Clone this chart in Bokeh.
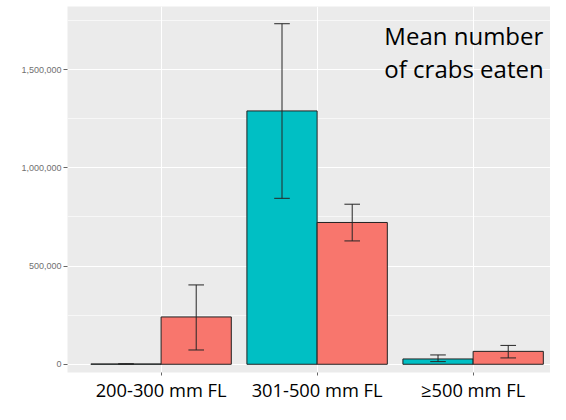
from bokeh.plotting import figure
from bokeh.models import (Range1d, FixedTicker, NumeralTickFormatter, Label)
from bokeh.embed import file_html
from bokeh.resources import INLINE
import numpy as np

# ---- data ----
categories = ["200-300 mm FL", "301-500 mm FL", "\u2265500 mm FL"]
cyan_mean = [1500, 1290000, 27000]
cyan_low = [500, 845000, 13500]
cyan_high = [2500, 1734000, 47500]
red_mean = [241000, 722000, 65700]
red_low = [72700, 628000, 32300]
red_high = [404000, 815000, 96000]
y_ticks = [0, 500000, 1000000, 1500000]
y_minor = [250000, 750000, 1250000, 1750000]
annot_lines = ["Mean number", "of crabs eaten"]

CYAN = "#00BFC4"
RED = "#F8766D"
FONT = "Open Sans"

p = figure(width=550, height=404, output_backend="svg", toolbar_location=None,
           x_range=Range1d(0.4, 3.496), y_range=Range1d(-41900, 1821700),
           min_border_left=67, min_border_right=0, min_border_top=6,
           min_border_bottom=29)
p.background_fill_color = "#EBEBEB"
p.border_fill_color = "white"
p.outline_line_color = None

xs = np.arange(1, len(categories) + 1)
bw = 0.45

p.vbar(x=xs - bw / 2, width=bw, top=cyan_mean, bottom=0,
       fill_color=CYAN, line_color="#222222", line_width=1)
p.vbar(x=xs + bw / 2, width=bw, top=red_mean, bottom=0,
       fill_color=RED, line_color="#222222", line_width=1)

cap = 0.05
for off, lo, hi in ((-bw / 2, cyan_low, cyan_high), (bw / 2, red_low, red_high)):
    cx = xs + off
    p.segment(x0=cx, x1=cx, y0=lo, y1=hi, line_color="#262626", line_width=1)
    p.segment(x0=cx - cap, x1=cx + cap, y0=lo, y1=lo, line_color="#262626", line_width=1)
    p.segment(x0=cx - cap, x1=cx + cap, y0=hi, y1=hi, line_color="#262626", line_width=1)

# axes
p.yaxis.ticker = FixedTicker(ticks=y_ticks, minor_ticks=y_minor)
p.yaxis.formatter = NumeralTickFormatter(format="0,0")
p.yaxis.axis_line_color = None
p.yaxis.major_tick_line_color = "#666666"
p.yaxis.major_tick_out = 4
p.yaxis.major_tick_in = 0
p.yaxis.minor_tick_line_color = None
p.yaxis.major_label_standoff = 2
p.yaxis.major_label_text_font = "Liberation Sans"
p.yaxis.major_label_text_font_size = "9px"
p.yaxis.major_label_text_color = "#707070"

p.xaxis.ticker = FixedTicker(ticks=list(xs))
p.xaxis.major_label_overrides = {int(i): c for i, c in zip(xs, categories)}
p.xaxis.axis_line_color = None
p.xaxis.major_tick_line_color = "#666666"
p.xaxis.major_tick_out = 3
p.xaxis.major_tick_in = 0
p.xaxis.minor_tick_line_color = None
p.xaxis.major_label_standoff = 1
p.xaxis.major_label_text_font = FONT
p.xaxis.major_label_text_font_size = "18.3px"
p.xaxis.major_label_text_color = "black"

# grids
p.xgrid.grid_line_color = "white"
p.xgrid.grid_line_width = 1.1
p.ygrid.grid_line_color = "white"
p.ygrid.grid_line_width = 1.1
p.ygrid.minor_grid_line_color = "white"
p.ygrid.minor_grid_line_width = 0.6

# annotation text
p.add_layout(Label(x=2.431, y=1759100, text=annot_lines[0], text_font=FONT,
                   text_font_size="24px", text_color="black",
                   text_baseline="top", text_align="left"))
p.add_layout(Label(x=2.431, y=1591400, text=annot_lines[1], text_font=FONT,
                   text_font_size="24px", text_color="black",
                   text_baseline="top", text_align="left"))

open("out.html", "w").write(file_html(p, INLINE))
